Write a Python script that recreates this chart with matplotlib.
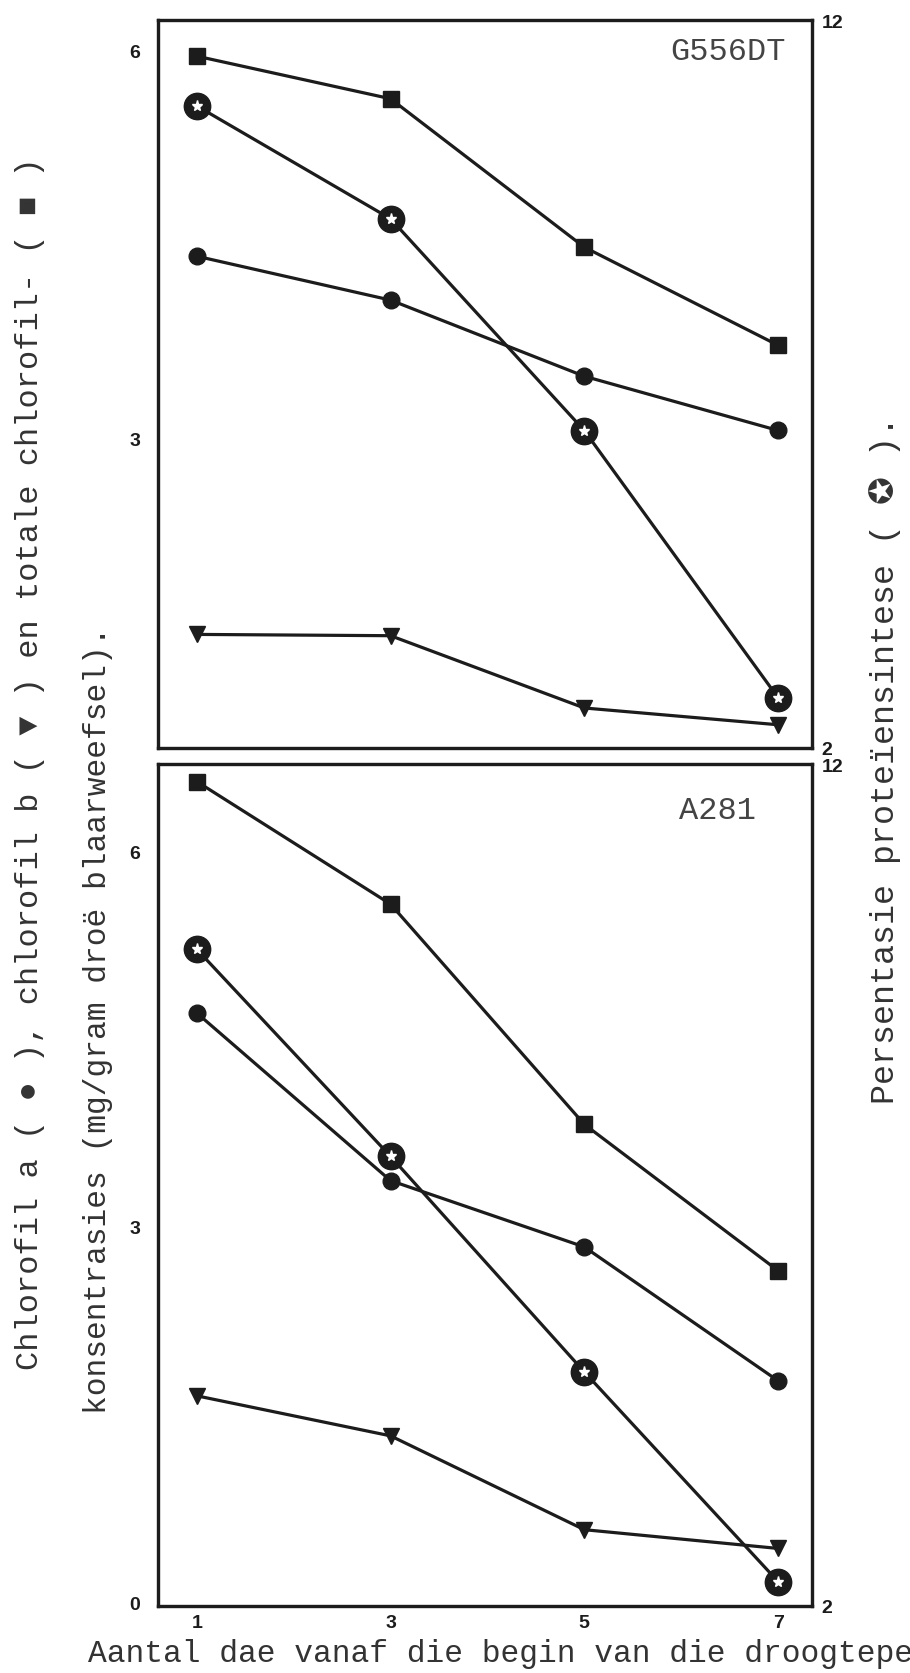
import matplotlib
matplotlib.use("Agg")
import matplotlib.pyplot as plt

# ---- data ----
days = [1, 3, 5, 7]
day_labels = ["1", "3", "5", "7"]

# G556DT (top panel)
g_total = [5.96, 5.63, 4.48, 3.72]
g_chla = [4.41, 4.07, 3.48, 3.06]
g_chlb = [1.48, 1.47, 0.91, 0.78]
g_prot = [10.82, 9.27, 6.36, 2.69]

# A281 (bottom panel)
a_total = [6.56, 5.58, 3.82, 2.65]
a_chla = [4.71, 3.37, 2.84, 1.77]
a_chlb = [1.65, 1.33, 0.58, 0.43]
a_prot = [9.8, 7.34, 4.78, 2.29]

top_left_ticks = [3, 6]
bot_left_ticks = [0, 3, 6]
right_ticks = [2, 12]

mono = ["Liberation Mono", "DejaVu Sans"]
tickfont = ["Liberation Sans", "DejaVu Sans"]
ink = "#1c1c1c"
txt = "#333333"

fig = plt.figure(figsize=(9.1, 16.74), dpi=100)
L, W = 158 / 910, 654 / 910
ax_top = fig.add_axes([L, 1 - 749 / 1674, W, 728 / 1674])
ax_bot = fig.add_axes([L, 1 - 1607 / 1674, W, 842 / 1674])


def style_ticklabels(labels):
    for lab in labels:
        lab.set_fontweight("bold")
        lab.set_family(tickfont)
        lab.set_fontsize(14)


def draw(ax, total, chla, chlb, prot, ylim, yticks, name, name_xy, show_x):
    ax.plot(days, total, color=ink, lw=2.3, marker="s", ms=11, mfc=ink, mec=ink, zorder=3)
    ax.plot(days, chla, color=ink, lw=2.3, marker="o", ms=12, mfc=ink, mec=ink, zorder=3)
    ax.plot(days, chlb, color=ink, lw=2.3, marker="v", ms=11, mfc=ink, mec=ink, zorder=3)
    ax.set_xlim(0.6, 7.35)
    ax.set_ylim(*ylim)
    ax.set_yticks(yticks)
    ax.set_yticklabels([str(t) for t in yticks])
    ax.tick_params(axis="y", length=0, pad=13, labelcolor=ink)
    if show_x:
        ax.set_xticks(days)
        ax.set_xticklabels(day_labels)
        ax.tick_params(axis="x", length=0, pad=6, labelcolor=ink)
    else:
        ax.set_xticks([])
    style_ticklabels(ax.get_xticklabels() + ax.get_yticklabels())
    for s in ax.spines.values():
        s.set_linewidth(2.3)
        s.set_color(ink)

    ax2 = ax.twinx()
    ax2.set_ylim(2, 12)
    ax2.plot(days, prot, color=ink, lw=2.3, marker="o", ms=19, mfc=ink, mec=ink, zorder=4)
    ax2.plot(days, prot, ls="none", marker="*", ms=8, mfc="white", mec="white", zorder=5)
    ax2.set_yticks(right_ticks)
    ax2.set_yticklabels([str(t) for t in right_ticks])
    ax2.tick_params(axis="y", length=0, pad=7, labelcolor=ink)
    style_ticklabels(ax2.get_yticklabels())
    for s in ax2.spines.values():
        s.set_linewidth(2.3)
        s.set_color(ink)
    ax2.text(name_xy[0], name_xy[1], name, transform=ax.transAxes,
             ha="right", va="center", fontsize=23, family=mono, color="#444444")


draw(ax_top, g_total, g_chla, g_chlb, g_prot, (0.6, 6.24), top_left_ticks, "G556DT", (0.96, 0.957), False)
draw(ax_bot, a_total, a_chla, a_chlb, a_prot, (-0.03, 6.7), bot_left_ticks, "A281", (0.915, 0.945), True)

fig.text(30 / 910, 1 - 764 / 1674,
         "Chlorofil a ( \u25cf ), chlorofil b ( \u25bc ) en totale chlorofil- ( \u25a0 )",
         rotation=90, ha="center", va="center", fontsize=23, family=mono, color=txt)
fig.text(98 / 910, 1 - 1020 / 1674,
         "konsentrasies (mg/gram dro\u00eb blaarweefsel).",
         rotation=90, ha="center", va="center", fontsize=22.5, family=mono, color=txt)
fig.text(885 / 910, 1 - 760 / 1674,
         "Persentasie prote\u00efensintese ( \u272a ).",
         rotation=90, ha="center", va="center", fontsize=24, family=mono, color=txt)
fig.text(88 / 910, 1 - 1654 / 1674,
         "Aantal dae vanaf die begin van die droogteperiode",
         ha="left", va="center", fontsize=22.5, family=mono, color=txt)

fig.savefig("out.png", dpi=100, facecolor="white")
